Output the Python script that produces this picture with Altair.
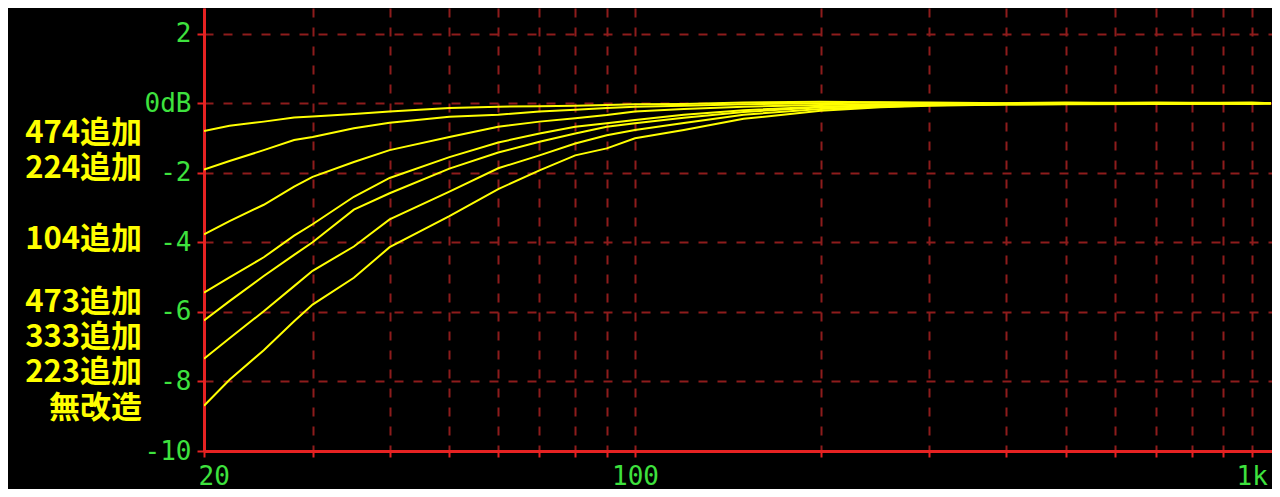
import altair as alt
import pandas as pd

# frequency points (Hz)
freqs = [20, 22, 25, 28, 30, 35, 40, 50, 60, 70, 80, 90, 100, 120, 150, 200, 250, 300, 400, 500, 700, 1000, 1075]

names = ["474追加", "224追加", "104追加", "473追加", "333追加", "223追加", "無改造"]

s474 = [-0.80, -0.65, -0.53, -0.41, -0.38, -0.31, -0.24, -0.14, -0.10, -0.09, -0.07, -0.05, -0.03, -0.02, 0.02, 0.04, 0.03, 0.02, 0.0, 0.02, 0.0, 0.02, 0.0]
s224 = [-1.91, -1.66, -1.35, -1.06, -0.97, -0.72, -0.56, -0.39, -0.33, -0.24, -0.19, -0.14, -0.10, -0.07, -0.03, 0.0, 0.02, 0.0, -0.02, 0.0, -0.02, 0.0, 0.0]
s104 = [-3.77, -3.39, -2.92, -2.40, -2.12, -1.69, -1.35, -0.97, -0.68, -0.53, -0.43, -0.34, -0.24, -0.17, -0.10, -0.05, -0.03, -0.02, 0.0, 0.0, 0.02, 0.0, 0.0]
s473 = [-5.45, -5.01, -4.43, -3.81, -3.48, -2.69, -2.15, -1.55, -1.13, -0.87, -0.68, -0.58, -0.48, -0.33, -0.20, -0.10, -0.06, -0.04, -0.02, 0.0, 0.0, 0.0, 0.0]
s333 = [-6.25, -5.69, -4.97, -4.36, -4.00, -3.06, -2.59, -1.88, -1.42, -1.11, -0.87, -0.68, -0.58, -0.42, -0.25, -0.12, -0.08, -0.05, -0.03, -0.02, 0.0, 0.0, 0.0]
s223 = [-7.35, -6.76, -5.98, -5.26, -4.82, -4.12, -3.34, -2.54, -1.87, -1.50, -1.16, -0.92, -0.77, -0.57, -0.33, -0.17, -0.10, -0.06, -0.03, -0.02, 0.0, -0.02, 0.0]
s_orig = [-8.70, -7.95, -7.10, -6.27, -5.79, -5.02, -4.14, -3.25, -2.47, -1.93, -1.50, -1.30, -1.01, -0.77, -0.45, -0.22, -0.12, -0.07, -0.04, -0.03, -0.02, 0.0, 0.0]

series = [s474, s224, s104, s473, s333, s223, s_orig]

# label anchor levels (dB) for the series names on the left
label_db = [-0.90, -1.89, -3.93, -5.74, -6.75, -7.76, -8.79]

x_ticks = [20, 30, 40, 50, 60, 70, 80, 90, 100, 200, 300, 400, 500, 600, 700, 800, 900, 1000]
y_ticks = [-10, -8, -6, -4, -2, 0, 2]

rows = []
for name, vals in zip(names, series):
    for f, v in zip(freqs, vals):
        rows.append({"name": name, "freq": f, "db": v})
df = pd.DataFrame(rows)
labels_df = pd.DataFrame({"name": names, "db": label_db})

AX_RED = "#e62222"
GRID_RED = "#8e1c1c"
GREEN = "#3ee23e"
YELLOW = "#ffff00"
MONO = "DejaVu Sans Mono"

x_scale = alt.Scale(type="log", domain=[20, 1079], nice=False)
y_scale = alt.Scale(domain=[-10, 2.737], nice=False, zero=False)

x_axis = alt.Axis(
    values=x_ticks,
    labelExpr="datum.value == 20 ? '20' : datum.value == 100 ? '100' : datum.value == 1000 ? '1k' : ''",
    title=None,
    grid=True,
    gridColor=GRID_RED,
    gridDash=[9, 10],
    gridWidth=2,
    domainColor=AX_RED,
    domainWidth=3,
    tickColor=AX_RED,
    tickWidth=2,
    tickSize=6,
    labelColor=GREEN,
    labelFont=MONO,
    labelFontSize=26,
    labelPadding=6,
    labelFlush=True,
    labelFlushOffset=6,
    labelOverlap=False,
)
y_axis = alt.Axis(
    values=y_ticks,
    labelExpr="datum.value == 0 ? '0dB' : '' + datum.value",
    title=None,
    grid=True,
    gridColor=GRID_RED,
    gridDash=[9, 10],
    gridWidth=2,
    domainColor=AX_RED,
    domainWidth=3,
    tickColor=AX_RED,
    tickWidth=2,
    tickSize=7,
    labelColor=GREEN,
    labelFont=MONO,
    labelFontSize=26,
    labelPadding=6,
    labelOverlap=False,
)

lines = alt.Chart(df).mark_line(color=YELLOW, strokeWidth=2, clip=True).encode(
    x=alt.X("freq:Q", scale=x_scale, axis=x_axis),
    y=alt.Y("db:Q", scale=y_scale, axis=y_axis),
    detail="name:N",
)

texts = alt.Chart(labels_df).mark_text(
    align="right",
    baseline="middle",
    font="Noto Sans CJK JP",
    fontSize=31,
    fontWeight="bold",
    color=YELLOW,
).encode(
    x=alt.value(-62),
    y=alt.Y("db:Q", scale=y_scale),
    text="name:N",
)

chart = alt.layer(lines, texts).properties(
    width=1068,
    height=443,
    background="#000000",
    autosize=alt.AutoSizeParams(type="none"),
    padding={"left": 196, "top": 0, "right": 0, "bottom": 38},
).configure_view(stroke=None)

chart.save("out.html", embed_options={"renderer": "svg", "actions": False})
